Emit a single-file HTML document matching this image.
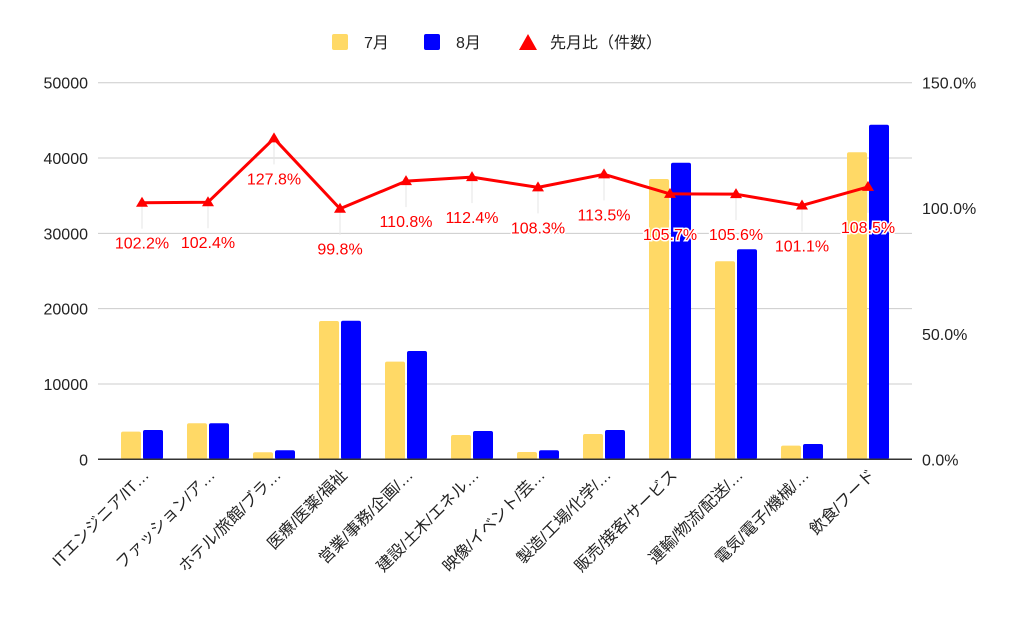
<!DOCTYPE html>
<html><head><meta charset="utf-8"><style>
body{margin:0;background:#fff;}
svg{display:block;font-family:"Liberation Sans","Noto Sans CJK JP",sans-serif;}
</style></head><body>
<svg id="chart" width="1024" height="633">
<g>
<rect x="332" y="34" width="16" height="16" rx="2" fill="#ffd966"/>
<text x="364" y="48" font-size="16" fill="#222">7月</text>
<rect x="424" y="34" width="16" height="16" rx="2" fill="#0000ff"/>
<text x="456" y="48" font-size="16" fill="#222">8月</text>
<polygon points="528,34 537,50 519,50" fill="#ff0000"/>
<text x="550" y="48" font-size="16" fill="#222">先月比（件数）</text>
</g>
<g id="grid"></g>
<g id="bars"></g>
<g id="line"></g>
<g id="axes"></g>
</svg>
<script>
const categories=["ITエンジニア/IT…","ファッション/ア…","ホテル/旅館/ブラ…","医療/医薬/福祉","営業/事務/企画/…","建設/土木/エネル…","映像/イベント/芸…","製造/工場/化学/…","販売/接客/サービス","運輸/物流/配送/…","電気/電子/機械/…","飲食/フード"];
const july=[3670,4780,930,18360,12960,3230,970,3360,37220,26290,1810,40760];
const august=[3890,4780,1195,18400,14380,3760,1200,3890,39380,27880,2030,44420];
const ratio=[102.2,102.4,127.8,99.8,110.8,112.4,108.3,113.5,105.7,105.6,101.1,108.5];
const leftTicks=[0,10000,20000,30000,40000,50000];
const rightTicks=[0,50,100,150];
const NS="http://www.w3.org/2000/svg";
const X0=109,BAND=66,Y0=459.3,Y1=82.7,GX0=98,GX1=912;
const yL=v=>Y0-(v/50000)*(Y0-Y1);
const yR=v=>Y0-(v/150)*(Y0-Y1);
const cx=i=>X0+BAND*(i+0.5);
function mk(tag,attrs,parent){const e=document.createElementNS(NS,tag);for(const k in attrs)e.setAttribute(k,attrs[k]);parent.appendChild(e);return e;}
const grid=document.getElementById('grid'),bars=document.getElementById('bars'),line=document.getElementById('line'),axes=document.getElementById('axes');
leftTicks.forEach(t=>{
 if(t>0){const g=mk('line',{x1:GX0,x2:GX1,y1:yL(t),y2:yL(t),stroke:'#cccccc','stroke-width':1},grid);
 
 }
 const tx=mk('text',{x:88,y:yL(t)+6,'text-anchor':'end','font-size':16,fill:'#222'},axes);
 tx.textContent=t;
 
 
});
rightTicks.forEach(t=>{
 const tx=mk('text',{x:922,y:yR(t)+6,'font-size':16,fill:'#222'},axes);
 tx.textContent=t.toFixed(1)+'%';
 
 
});
categories.forEach((c,i)=>{
 const x=cx(i);
 const b1=mk('rect',{x:x-21,y:yL(july[i]),width:20,height:Y0-yL(july[i]),rx:2,fill:'#ffd966'},bars);
 
 
 const b2=mk('rect',{x:x+1,y:yL(august[i]),width:20,height:Y0-yL(august[i]),rx:2,fill:'#0000ff'},bars);
 
 
 const tx=mk('text',{x:x+8,y:476,'text-anchor':'end','font-size':16,fill:'#222',transform:`rotate(-45 ${x+8} 476)`},axes);
 tx.textContent=c;
 
 
});
const base=mk('line',{x1:GX0,x2:GX1,y1:Y0,y2:Y0,stroke:'#333','stroke-width':1.5},axes);


ratio.forEach((r,i)=>{
 const l=mk('line',{x1:cx(i),x2:cx(i),y1:yR(r),y2:yR(r)+26,stroke:'#e6e6e6','stroke-width':1},line);
 
 
});
const pl=mk('polyline',{points:ratio.map((r,i)=>cx(i)+','+yR(r)).join(' '),fill:'none',stroke:'#ff0000','stroke-width':3,'stroke-linejoin':'round'},line);


ratio.forEach((r,i)=>{
 const x=cx(i),y=yR(r);
 const p=mk('polygon',{points:`${x},${y-6} ${x+6},${y+4} ${x-6},${y+4}`,fill:'#ff0000'},line);
 
 
 const t=mk('text',{x:x,y:y+46,'text-anchor':'middle','font-size':16,fill:'#ff0000',stroke:'#fff','stroke-width':3,'paint-order':'stroke'},line);
 t.textContent=r.toFixed(1)+'%';
 
 
});
</script>
</body></html>
